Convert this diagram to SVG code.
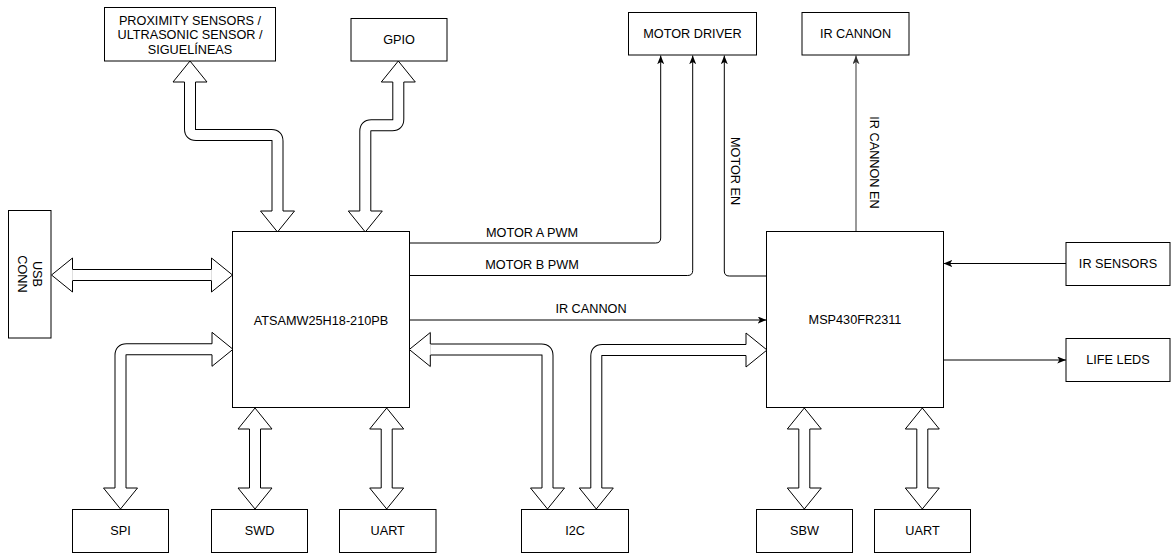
<svg xmlns="http://www.w3.org/2000/svg" xmlns:xlink="http://www.w3.org/1999/xlink" width="1172" height="553" viewBox="0 0 1172 553">
<style>
.box{fill:#fff;stroke:#000;stroke-width:1}
.t{font-family:"Liberation Sans",Arial,sans-serif;font-size:12.7px;fill:#000;text-anchor:middle;dominant-baseline:central}
.fo{fill:none;stroke:#000;stroke-width:12}
.fi{fill:none;stroke:#fff;stroke-width:10}
.ln{fill:none;stroke:#000;stroke-width:1}
.lg{fill:none;stroke:#555;stroke-width:1.2}
.hd{fill:#fff;stroke:#000;stroke-width:1;stroke-linejoin:miter}
</style>
<defs>
<path id="head" class="hd" d="M-5.5,21 L-17,21 L0,0 L17,21 L5.5,21"/>
<marker id="arr" viewBox="0 0 10 8" refX="10" refY="4" markerWidth="9" markerHeight="7" markerUnits="userSpaceOnUse" orient="auto">
<path d="M0,0 L10,4 L0,8 L2.5,4 Z" fill="#000"/>
</marker>
<marker id="arrg" viewBox="0 0 10 8" refX="10" refY="4" markerWidth="9" markerHeight="7" markerUnits="userSpaceOnUse" orient="auto">
<path d="M0,0 L10,4 L0,8 L2.5,4 Z" fill="#333"/>
</marker>
</defs>

<g id="connectors">
<!-- thin signal lines -->
<path class="ln" d="M409.5,243 H655.7 Q660.7,243 660.7,238 V55.5" marker-end="url(#arr)"/>
<path class="ln" d="M409.5,275.5 H687.7 Q692.7,275.5 692.7,270.5 V55.5" marker-end="url(#arr)"/>
<path class="ln" d="M766.5,276 H729.3 Q724.3,276 724.3,271 V55.5" marker-end="url(#arr)"/>
<path class="lg" d="M856,231.5 V55.5" marker-end="url(#arrg)"/>
<path class="ln" d="M409.5,320 H766.5" marker-end="url(#arr)"/>
<path class="ln" d="M1066,263.5 H943.5" marker-end="url(#arr)"/>
<path class="ln" d="M943.5,360 H1066" marker-end="url(#arr)"/>
<text class="t" x="532" y="233">MOTOR A PWM</text>
<text class="t" x="532" y="265">MOTOR B PWM</text>
<text class="t" x="591" y="309">IR CANNON</text>
<text class="t" transform="translate(735,171) rotate(90)">MOTOR EN</text>
<text class="t" transform="translate(873.5,162.5) rotate(90)">IR CANNON EN</text>

<!-- bus arrows (flex) -->
<g id="bus-prox">
<path class="fo" d="M190,82 V129 Q190,135 196,135 H271.5 Q277.5,135 277.5,141 V211"/>
<path class="fi" d="M190,82 V129 Q190,135 196,135 H271.5 Q277.5,135 277.5,141 V211"/>
<use xlink:href="#head" transform="translate(190,61)"/>
<use xlink:href="#head" transform="translate(277.5,232) rotate(180)"/>
</g>
<g id="bus-gpio">
<path class="fo" d="M398.3,82 V119.3 Q398.3,125.3 392.3,125.3 H371.3 Q365.3,125.3 365.3,131.3 V211"/>
<path class="fi" d="M398.3,82 V119.3 Q398.3,125.3 392.3,125.3 H371.3 Q365.3,125.3 365.3,131.3 V211"/>
<use xlink:href="#head" transform="translate(398.3,61)"/>
<use xlink:href="#head" transform="translate(365.3,232) rotate(180)"/>
</g>
<g id="bus-usb">
<path class="fo" d="M72.5,275 H211.5"/>
<path class="fi" d="M72.5,275 H211.5"/>
<use xlink:href="#head" transform="translate(51.5,275) rotate(-90)"/>
<use xlink:href="#head" transform="translate(232.5,275) rotate(90)"/>
</g>
<g id="bus-spi">
<path class="fo" d="M212,349.3 H126.5 Q120.5,349.3 120.5,355.3 V488"/>
<path class="fi" d="M212,349.3 H126.5 Q120.5,349.3 120.5,355.3 V488"/>
<use xlink:href="#head" transform="translate(233,349.3) rotate(90)"/>
<use xlink:href="#head" transform="translate(120.5,509) rotate(180)"/>
</g>
<g id="bus-swd">
<path class="fo" d="M255,429 V488"/>
<path class="fi" d="M255,429 V488"/>
<use xlink:href="#head" transform="translate(255,408)"/>
<use xlink:href="#head" transform="translate(255,509) rotate(180)"/>
</g>
<g id="bus-uart1">
<path class="fo" d="M386.7,429 V488"/>
<path class="fi" d="M386.7,429 V488"/>
<use xlink:href="#head" transform="translate(386.7,408)"/>
<use xlink:href="#head" transform="translate(386.7,509) rotate(180)"/>
</g>
<g id="bus-i2c-a">
<path class="fo" d="M430.3,349.5 H541.5 Q547.5,349.5 547.5,355.5 V488"/>
<path class="fi" d="M430.3,349.5 H541.5 Q547.5,349.5 547.5,355.5 V488"/>
<use xlink:href="#head" transform="translate(409.3,349.5) rotate(-90)"/>
<use xlink:href="#head" transform="translate(547.5,509) rotate(180)"/>
</g>
<g id="bus-i2c-b">
<path class="fo" d="M596.3,488 V356 Q596.3,350 602.3,350 H746"/>
<path class="fi" d="M596.3,488 V356 Q596.3,350 602.3,350 H746"/>
<use xlink:href="#head" transform="translate(596.3,509) rotate(180)"/>
<use xlink:href="#head" transform="translate(767,350) rotate(90)"/>
</g>
<g id="bus-sbw">
<path class="fo" d="M804.3,429 V488"/>
<path class="fi" d="M804.3,429 V488"/>
<use xlink:href="#head" transform="translate(804.3,408)"/>
<use xlink:href="#head" transform="translate(804.3,509) rotate(180)"/>
</g>
<g id="bus-uart2">
<path class="fo" d="M922.3,429 V488"/>
<path class="fi" d="M922.3,429 V488"/>
<use xlink:href="#head" transform="translate(922.3,408)"/>
<use xlink:href="#head" transform="translate(922.3,509) rotate(180)"/>
</g>
</g>

<g id="prox"><rect class="box" x="104.5" y="7.5" width="171" height="53.5"/>
<text class="t" x="190" y="20.7">PROXIMITY SENSORS /</text>
<text class="t" x="190" y="35">ULTRASONIC SENSOR /</text>
<text class="t" x="190" y="49.5">SIGUELÍNEAS</text></g>
<g id="gpio"><rect class="box" x="351" y="18.5" width="96" height="42.5"/><text class="t" x="399" y="40">GPIO</text></g>
<g id="motordriver"><rect class="box" x="628.5" y="12.5" width="128" height="42.5"/><text class="t" x="692.5" y="34">MOTOR DRIVER</text></g>
<g id="ircannon"><rect class="box" x="802" y="12.5" width="107" height="42.5"/><text class="t" x="855.5" y="34">IR CANNON</text></g>
<g id="usb"><rect class="box" x="8.5" y="210.5" width="42.5" height="127.5"/>
<text class="t" transform="translate(36.5,274) rotate(90)">USB</text>
<text class="t" transform="translate(21.7,274) rotate(90)">CONN</text></g>
<g id="atsamw"><rect class="box" x="232.5" y="231.5" width="177" height="176"/><text class="t" x="321" y="320.5">ATSAMW25H18-210PB</text></g>
<g id="msp"><rect class="box" x="766.5" y="231.5" width="177" height="176"/><text class="t" x="855" y="320">MSP430FR2311</text></g>
<g id="irsensors"><rect class="box" x="1066" y="242.5" width="104" height="43"/><text class="t" x="1118" y="264">IR SENSORS</text></g>
<g id="lifeleds"><rect class="box" x="1066" y="338.5" width="104" height="43"/><text class="t" x="1118" y="360">LIFE LEDS</text></g>
<g id="spi"><rect class="box" x="72.5" y="509.5" width="96" height="43"/><text class="t" x="120.5" y="531">SPI</text></g>
<g id="swd"><rect class="box" x="211.5" y="509.5" width="96" height="43"/><text class="t" x="259.5" y="531">SWD</text></g>
<g id="uart1"><rect class="box" x="339.5" y="509.5" width="96.5" height="43"/><text class="t" x="387.7" y="531">UART</text></g>
<g id="i2c"><rect class="box" x="521.5" y="509.5" width="107" height="43"/><text class="t" x="575" y="531">I2C</text></g>
<g id="sbw"><rect class="box" x="756.5" y="509.5" width="96" height="43"/><text class="t" x="804.5" y="531">SBW</text></g>
<g id="uart2"><rect class="box" x="874.5" y="509.5" width="96" height="43"/><text class="t" x="922.5" y="531">UART</text></g>
</svg>
